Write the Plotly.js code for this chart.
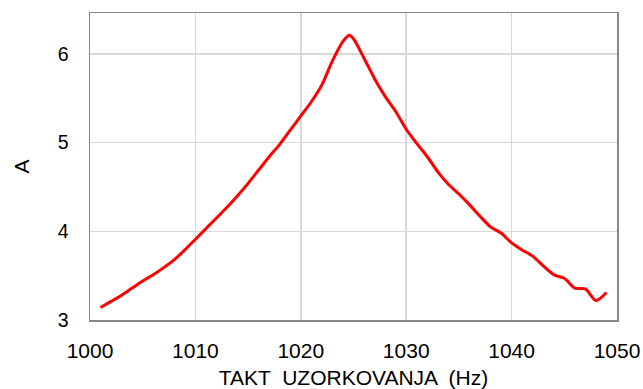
<!DOCTYPE html>
<html>
<head>
<meta charset="utf-8">
<script src="https://cdn.plot.ly/plotly-3.0.1.min.js"></script>
<style>html,body{margin:0;padding:0;background:#fff;}#chart{width:643px;height:389px;}</style>
</head>
<body>
<div id="chart"></div>
<script>
var freqHz = [1001,1002,1003,1004,1005,1006,1007,1008,1009,1010,
              1011,1012,1013,1014,1015,1016,1017,1018,1019,1020,
              1021,1022,1023,1024,1024.6,1025,1026,1027,1028,1029,1030,
              1031,1032,1033,1034,1035,1036,1037,1038,1039,1040,
              1041,1042,1043,1044,1045,1046,1047,1048,1049];
var amplitudeA = [3.14,3.21,3.28,3.36,3.44,3.51,3.59,3.68,3.79,3.91,
                  4.03,4.15,4.27,4.40,4.54,4.69,4.84,4.98,5.14,5.30,
                  5.46,5.65,5.92,6.14,6.21,6.17,5.95,5.72,5.52,5.35,5.15,
                  4.99,4.84,4.67,4.53,4.42,4.30,4.17,4.05,3.98,3.87,
                  3.79,3.72,3.61,3.51,3.47,3.36,3.35,3.22,3.31];
var xTicks = [1000,1010,1020,1030,1040,1050];
var yTicks = [3,4,5,6];
var xTitle = 'TAKT  UZORKOVANJA  (Hz)';
var yTitle = 'A';

var fam = '"Liberation Sans", Arial, sans-serif';
var xFont = {family: fam, size: 21, color: '#000'};
var yFont = {family: fam, size: 19.5, color: '#000'};

Plotly.newPlot('chart', [{
  x: freqHz, y: amplitudeA, type: 'scatter', mode: 'lines',
  line: {color: '#ff0000', width: 3, shape: 'spline', smoothing: 0.8},
  hoverinfo: 'skip'
}], {
  width: 643, height: 389,
  margin: {l: 90, r: 26, t: 13, b: 69},
  paper_bgcolor: '#fff', plot_bgcolor: '#fff',
  font: yFont,
  showlegend: false,
  xaxis: {
    range: [1000, 1050], tickvals: xTicks, ticktext: xTicks.map(String),
    showgrid: true, gridcolor: '#d9d9d9', gridwidth: 1.5,
    zeroline: false, showline: true, mirror: true, linecolor: '#878787', linewidth: 1.5,
    ticks: '', ticklabelstandoff: 11, tickfont: xFont,
    title: {text: xTitle, font: xFont, standoff: 12}
  },
  yaxis: {
    range: [3, 6.46], tickvals: yTicks, ticktext: yTicks.map(String),
    showgrid: true, gridcolor: '#d9d9d9', gridwidth: 1.5,
    zeroline: false, showline: true, mirror: true, linecolor: '#878787', linewidth: 1.5,
    ticks: '', ticklabelstandoff: 16, tickfont: yFont,
    title: {text: yTitle, font: {family: fam, size: 21, color: '#000'}, standoff: 22}
  }
}, {staticPlot: true, displayModeBar: false});
</script>
</body>
</html>
